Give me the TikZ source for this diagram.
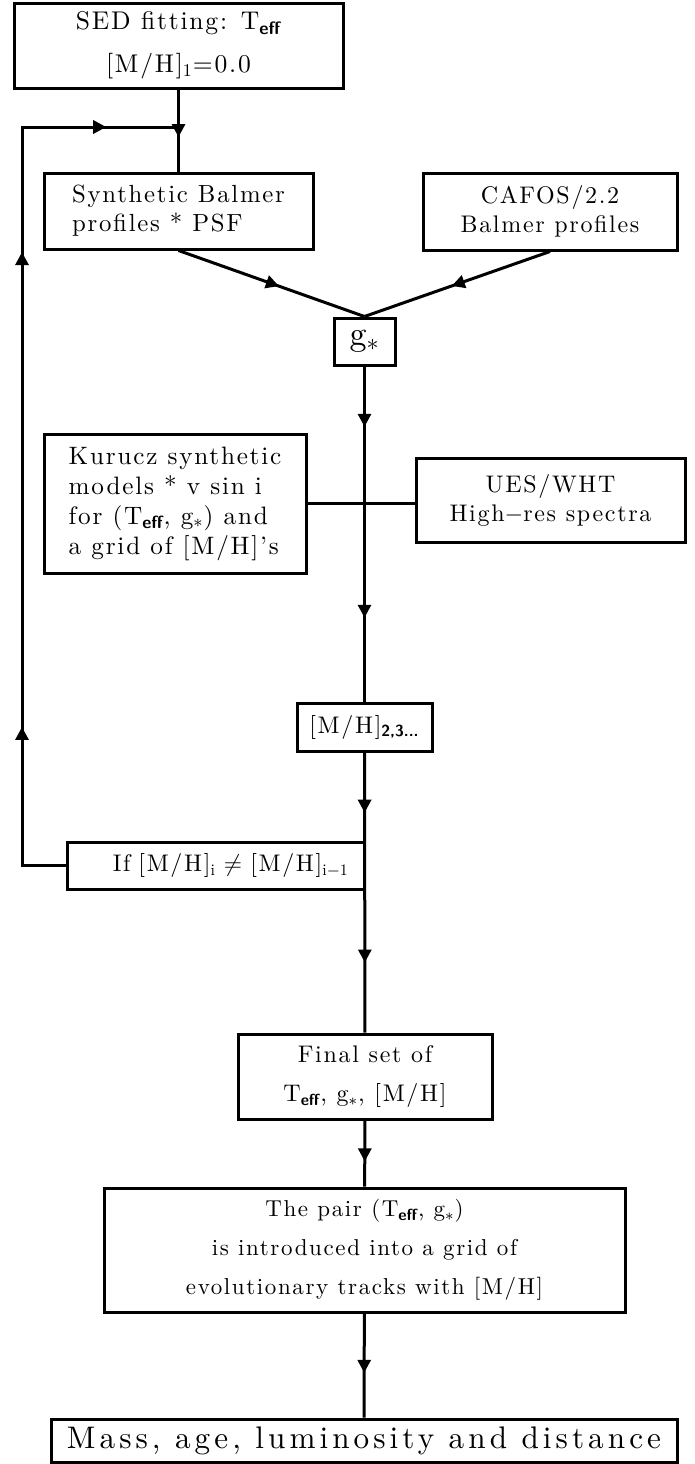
\documentclass[tikz,border=0pt]{standalone}
\usepackage{amsmath}
\usepackage{amssymb}
\usepackage{fontspec}
\usetikzlibrary{arrows.meta,decorations.markings}

\newfontfamily\spaced{lmroman10-regular.otf}[LetterSpace=7]
\newfontfamily\wspaced{lmroman10-regular.otf}[LetterSpace=13]
\newcommand{\eff}{\textsubscript{\sffamily\bfseries eff}}
\newcommand{\gs}{g\textsubscript{$*$}}
\newcommand{\MH}{[M/H]}

\tikzset{
    box/.style={draw, rectangle, inner sep=0pt, font=\spaced\fontsize{12}{14.5}\selectfont},
    arrat/.style={postaction={decorate, decoration={markings,
        mark=at position #1 with {\arrow{Triangle[width=6.5pt,length=6.5pt]}}}}}
}

\begin{document}
\begin{tikzpicture}[x=0.5pt, y=-0.5pt, line width=1.5pt]
    \useasboundingbox (0,0) rectangle (695,1464);

    % Input boxes
    \node[box, minimum width=164.5pt, minimum height=42.5pt, align=center,
        font=\spaced\fontsize{12.8}{21.5}\selectfont] (sed) at (178.5,45.5)
        {SED fitting: T\eff\\ \MH\textsubscript{1}=0.0};
    \node[box, minimum width=134.5pt, minimum height=38pt, align=left,
        font=\spaced\fontsize{12.4}{14.5}\selectfont] (synth) at (178.5,211)
        {Synthetic Balmer\\profiles * PSF};
    \node[box, minimum width=127pt, minimum height=38.5pt, align=center] (cafos) at (550,211.5)
        {CAFOS/2.2\\Balmer profiles};
    \node[box, minimum width=30.5pt, minimum height=23.5pt,
        font=\spaced\fontsize{17}{18}\selectfont] (gstar) at (364.5,341.5) {\gs};

    % Metallicity step
    \node[box, minimum width=131pt, minimum height=69.5pt, align=left,
        font=\spaced\fontsize{12.6}{15}\selectfont] (kurucz) at (175,503.5)
        {Kurucz synthetic\\models * v sin i\\for (T\eff, \gs) and\\a grid of \MH’s};
    \node[box, minimum width=134.5pt, minimum height=42pt, align=center] (ues) at (550.5,500)
        {UES/WHT\\High$-$res spectra};
    \node[box, minimum width=67.5pt, minimum height=24pt] (mh23) at (364.5,727)
        {\MH\textsubscript{\sffamily\bfseries 2,3...}};
    \node[box, minimum width=148.5pt, minimum height=23.5pt, text width=133.5pt,
        align=right] (ifbox) at (215.5,865.5)
        {If \MH\textsubscript{i} $\neq$ \MH\textsubscript{i$-$1}};

    % Results
    \node[box, minimum width=127pt, minimum height=42.5pt, align=center,
        font=\spaced\fontsize{12}{19.5}\selectfont] (final) at (365,1076.5)
        {Final set of\\T\eff, \gs, \MH};
    \node[box, minimum width=260.5pt, minimum height=62pt, align=center,
        font=\spaced\fontsize{11.5}{19.5}\selectfont] (pair) at (364.5,1250)
        {The pair (T\eff, \gs)\\is introduced into a grid of\\evolutionary tracks with \MH};
    \node[box, minimum width=313pt, minimum height=21.5pt,
        font=\wspaced\fontsize{15.6}{16}\selectfont] (mass) at (364,1440.5)
        {Mass, age, luminosity and distance};

    % Loop coordinates
    \coordinate (lt) at (22,127);
    \coordinate (jn) at (178.5,127);

    % Connections
    \draw[arrat=0.58] (sed) -- (synth);
    \draw[arrat=0.54] (synth.south) -- (gstar.north);
    \draw[arrat=0.53] (cafos.south) -- (gstar.north);
    \draw[arrat=0.18, arrat=0.75] (gstar) -- (mh23);
    \draw (kurucz.east) -- (kurucz.east -| ues.west);
    \draw[arrat=0.215, arrat=0.75] (mh23) -- (final);
    \draw[arrat=0.62] (final) -- (pair);
    \draw[arrat=0.57] (pair) -- (mass);
    \draw[arrat=0.194, arrat=0.70, arrat=0.923] (ifbox.west) -| (lt) -- (jn);
\end{tikzpicture}
\end{document}
